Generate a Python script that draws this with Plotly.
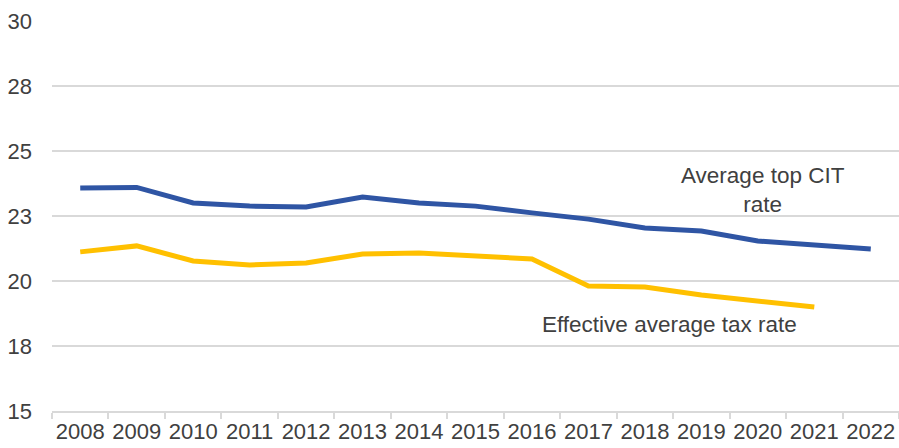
import plotly.graph_objects as go

years = [str(y) for y in range(2008, 2023)]
top_cit = [23.58, 23.6, 23.0, 22.88, 22.85, 23.23, 23.0, 22.88, 22.62, 22.38, 22.04, 21.92, 21.54, 21.38, 21.23]
eatr = [21.12, 21.35, 20.77, 20.62, 20.69, 21.04, 21.08, 20.96, 20.85, 19.81, 19.77, 19.46, 19.23, 19.0]

txt = "#404040"
grid = "#d9d9d9"

fig = go.Figure()
fig.add_trace(go.Scatter(x=years, y=top_cit, mode="lines",
                         line=dict(color="#2F55A4", width=5), name="Average top CIT rate"))
fig.add_trace(go.Scatter(x=years[:len(eatr)], y=eatr, mode="lines",
                         line=dict(color="#FFC000", width=5), name="Effective average tax rate"))

# category index positions (string years would be read as numbers)
fig.add_annotation(x=years.index("2019"), y=23.5, text="Average top CIT<br>rate", showarrow=False,
                   xshift=62, font=dict(size=22.5, color=txt), align="center")
fig.add_annotation(x=years.index("2018"), y=18.31, text="Effective average tax rate", showarrow=False,
                   xshift=25, font=dict(size=22.5, color=txt))

fig.update_layout(
    width=899, height=448,
    margin=dict(l=52, r=0, t=21, b=37),
    plot_bgcolor="white", paper_bgcolor="white",
    showlegend=False,
    font=dict(family="Liberation Sans, Arial", size=22, color=txt),
    xaxis=dict(type="category", range=[-0.5, 14.5], showgrid=False, automargin=False,
               showline=True, linecolor=grid, linewidth=1.5, tickangle=0,
               ticks="outside", tickson="boundaries", ticklen=6, tickcolor=grid, tickwidth=1.5,
               tickfont=dict(size=22, color=txt)),
    yaxis=dict(range=[15, 30], dtick=2.5, tick0=15, tickformat=".0f", automargin=False,
               showgrid=True, gridcolor=grid, gridwidth=1.5, zeroline=False,
               showline=False, ticks="", ticklabelstandoff=19,
               tickfont=dict(size=22, color=txt)),
)

fig.write_html("out.html", config={"displayModeBar": False},
               post_script="document.body.style.margin='0';")
